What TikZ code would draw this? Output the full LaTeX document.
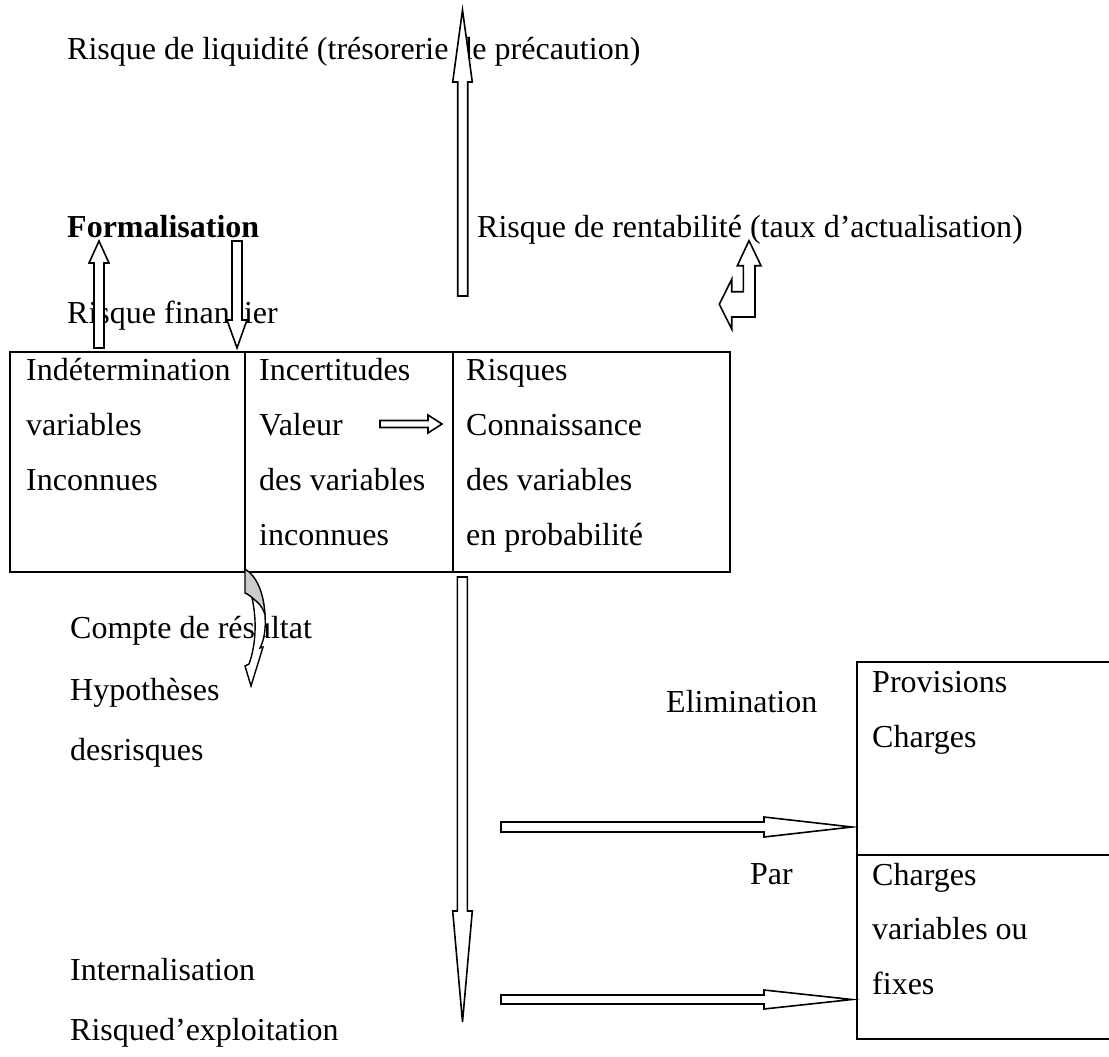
\documentclass[tikz,border=0pt]{standalone}
\usepackage{fontspec}
\setmainfont{Liberation Serif}
\begin{document}
\begin{tikzpicture}[x=1pt,y=-1pt,
  txt/.style={anchor=base west,inner sep=0pt,font=\fontsize{32}{38}\selectfont},
  blockarrow/.style={draw=black,fill=white,line width=1.6pt,line join=miter},
  frame/.style={draw=black,line width=2pt}]
\useasboundingbox (0,0) rectangle (1109,1057);
\clip (0,0) rectangle (1109,1057);

% ---- upper labels
\node[txt] (liq) at (67,60) {Risque de liquidité (trésorerie de précaution)};
\node[txt,font=\fontsize{32}{38}\selectfont\bfseries] (form) at (67,237) {Formalisation};
\node[txt] (rent) at (477,237) {Risque de rentabilité (taux d’actualisation)};
\node[txt] (fin) at (67,323) {Risque financier};

% ---- three-column table
\draw[frame] (10,352) rectangle (730,572);
\draw[frame] (245,352) -- (245,572);
\draw[frame] (453,352) -- (453,572);
\node[txt] (c1a) at (26,380) {Indétermination};
\node[txt] (c1b) at (26,435) {variables};
\node[txt] (c1c) at (26,490) {Inconnues};
\node[txt] (c2a) at (259,380) {Incertitudes};
\node[txt] (c2b) at (259,435) {Valeur};
\node[txt] (c2c) at (259,490) {des variables};
\node[txt] (c2d) at (259,545) {inconnues};
\node[txt] (c3a) at (466,380) {Risques};
\node[txt] (c3b) at (466,435) {Connaissance};
\node[txt] (c3c) at (466,490) {des variables};
\node[txt] (c3d) at (466,545) {en probabilité};

% ---- lower labels
\node[txt] (cpt) at (70,638) {Compte de résultat};
\node[txt] (hyp) at (70,700) {Hypothèses};
\node[txt] (des) at (70,760) {desrisques};
\node[txt] (int) at (70,980) {Internalisation};
\node[txt] (exp) at (70,1040) {Risqued’exploitation};
\node[txt] (elim) at (666,712) {Elimination};
\node[txt] (par) at (750,884) {Par};

% ---- right-hand boxes
\draw[frame] (857,662) rectangle (1120,855);
\draw[frame] (857,855) rectangle (1120,1039);
\node[txt] (prov) at (872,692) {Provisions};
\node[txt] (chg1) at (872,747) {Charges};
\node[txt] (chg2) at (872,885) {Charges};
\node[txt] (varf) at (872,939) {variables ou};
\node[txt] (fixe) at (872,994) {fixes};

% ---- block arrows
% long upward arrow
\draw[blockarrow] (457.7,296) -- (457.7,82) -- (452.7,82) -- (462.5,10)
  -- (472.3,82) -- (467.7,82) -- (467.7,296) -- cycle;
% short upward arrow under the title
\draw[blockarrow] (94,348) -- (94,263) -- (89,263) -- (99,241)
  -- (109,263) -- (104,263) -- (104,348) -- cycle;
% short downward arrow
\draw[blockarrow] (232,241) -- (232,320) -- (227,320) -- (237,348)
  -- (247,320) -- (242,320) -- (242,241) -- cycle;
% bent arrow (up and left)
\draw[blockarrow] (749,240.7) -- (761,265.7) -- (755,265.7) -- (755,317)
  -- (731.7,317) -- (731.7,329) -- (719.3,304.3) -- (731.7,279.3)
  -- (731.7,291.7) -- (743.3,291.7) -- (743.3,265.7) -- (737.3,265.7) -- cycle;
% small arrow inside the table
\draw[blockarrow] (380,420.5) -- (428,420.5) -- (428,415) -- (442,424)
  -- (428,433) -- (428,427.5) -- (380,427.5) -- cycle;
% curved arrow below the table
\draw[draw=black,fill=gray!40,line width=1.4pt] (245,569)
  .. controls (257,576) and (264,594) .. (265,615)
  .. controls (260,604) and (252,596) .. (245,593) -- cycle;
\draw[blockarrow,line width=1.4pt] (265,615)
  .. controls (266,630) and (264,640) .. (260,648)
  -- (263,647) -- (251,686) -- (245,666) -- (249,664)
  .. controls (256,645) and (257,620) .. (252,598)
  .. controls (258,602) and (263,607) .. (265,615) -- cycle;
% long downward arrow
\draw[blockarrow] (457.3,577) -- (457.3,911) -- (452.7,911) -- (462.5,1022)
  -- (472.3,911) -- (467.3,911) -- (467.3,577) -- cycle;
% two rightward arrows
\draw[blockarrow] (501,822) -- (764,822) -- (764,817) -- (852,827)
  -- (764,837) -- (764,832) -- (501,832) -- cycle;
\draw[blockarrow] (501,995) -- (764,995) -- (764,990) -- (852,999.5)
  -- (764,1009) -- (764,1004) -- (501,1004) -- cycle;
\end{tikzpicture}
\end{document}
